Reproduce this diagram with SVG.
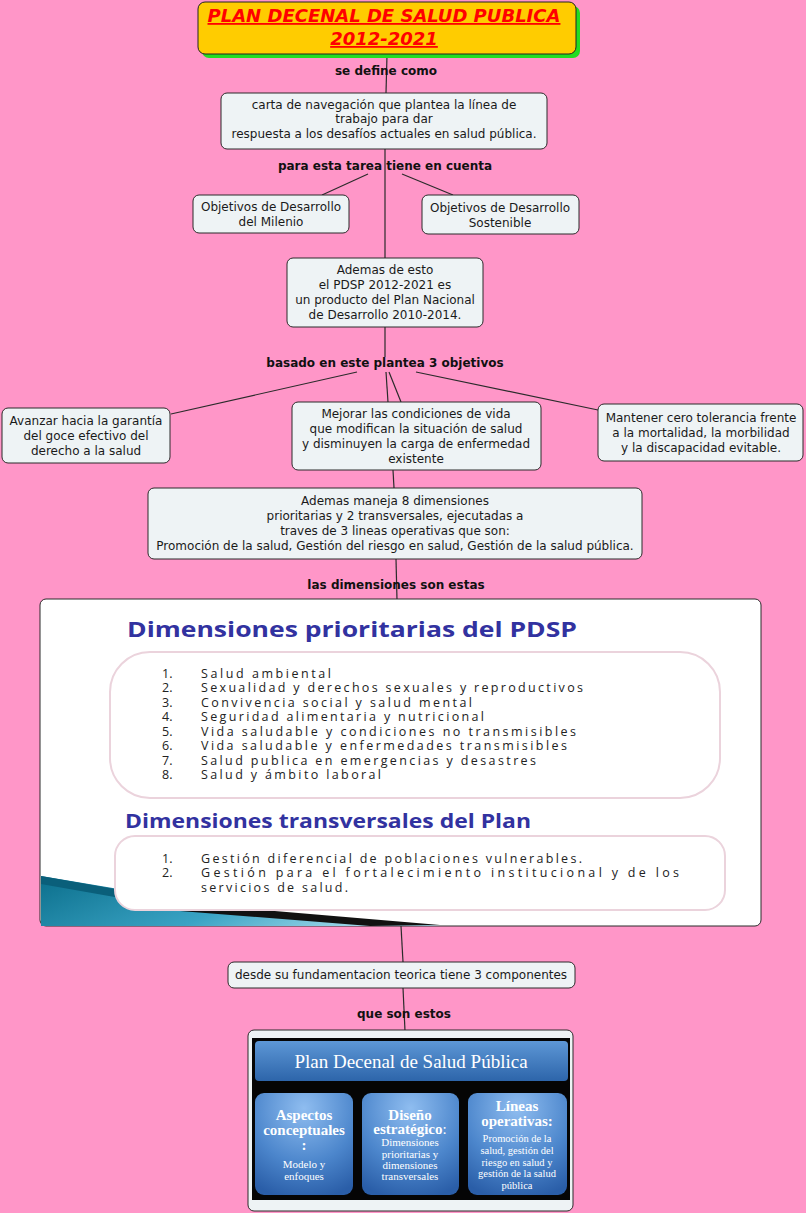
<svg xmlns="http://www.w3.org/2000/svg" width="806" height="1213" viewBox="0 0 806 1213">
<defs>
<style>
.node{fill:#EEF3F5;stroke:#2b2b2b;stroke-width:1}
.t{font-family:"DejaVu Sans",Verdana,sans-serif;font-size:12px;fill:#1a1a1a;text-anchor:middle}
.lbl{font-family:"DejaVu Sans",Verdana,sans-serif;font-size:12px;font-weight:bold;fill:#111;text-anchor:middle}
.conn line{stroke:#2b2b2b;stroke-width:1.2}
.dh{font-family:"Open Sans","DejaVu Sans",sans-serif;font-weight:bold;fill:#3232A0}
.li{font-family:"Open Sans","DejaVu Sans",sans-serif;font-size:12.5px;fill:#222}
.sv{font-family:"Liberation Serif","DejaVu Serif",serif;fill:#fff;text-anchor:middle}
.sb{font-weight:bold;font-size:15px}
.ss{font-size:11px}
</style>
<linearGradient id="teal" x1="0" y1="0" x2="1" y2="0.3">
<stop offset="0" stop-color="#0b6f8c"/><stop offset="0.6" stop-color="#3aa3c4"/><stop offset="1" stop-color="#9fd8ea"/>
</linearGradient>
<linearGradient id="hdr" x1="0" y1="0" x2="0" y2="1">
<stop offset="0" stop-color="#5d97d6"/><stop offset="1" stop-color="#2d65aa"/>
</linearGradient>
<radialGradient id="box" cx="0.5" cy="0.15" r="0.9">
<stop offset="0" stop-color="#8fbdf0"/><stop offset="0.6" stop-color="#4c86cc"/><stop offset="1" stop-color="#2a5ea8"/>
</radialGradient>
</defs>
<rect x="0" y="0" width="806" height="1213" fill="#FF96C8"/>

<g class="conn">
<line x1="387" y1="55" x2="386" y2="93"/>
<line x1="385" y1="149" x2="385" y2="258"/>
<line x1="368" y1="174" x2="322" y2="195"/>
<line x1="402" y1="174" x2="453" y2="195"/>
<line x1="385" y1="327" x2="385" y2="357"/>
<line x1="357" y1="372" x2="171" y2="414"/>
<line x1="386" y1="372" x2="388" y2="402"/>
<line x1="389" y1="372" x2="401" y2="402"/>
<line x1="416" y1="372" x2="598" y2="410"/>
<line x1="393" y1="470" x2="394" y2="488"/>
<line x1="396" y1="559" x2="397" y2="600"/>
<line x1="401" y1="926" x2="403" y2="962"/>
<line x1="403" y1="988" x2="405" y2="1031"/>
</g>

<g id="title">
<rect x="202" y="6" width="378" height="52" rx="7" fill="#22DD22"/>
<rect x="198" y="2" width="378" height="52" rx="7" fill="#FFCC00" stroke="#222" stroke-width="1"/>
<text x="384" y="22" text-anchor="middle" font-family="DejaVu Sans,Verdana,sans-serif" font-size="18" font-weight="bold" font-style="italic" fill="#FF0000" text-decoration="underline">PLAN DECENAL DE SALUD PUBLICA</text>
<text x="384" y="45" text-anchor="middle" font-family="DejaVu Sans,Verdana,sans-serif" font-size="18" font-weight="bold" font-style="italic" fill="#FF0000" text-decoration="underline">2012-2021</text>
</g>

<g id="labels">
<text class="lbl" x="386" y="75">se define como</text>
<text class="lbl" x="385" y="170">para esta tarea tiene en cuenta</text>
<text class="lbl" x="385" y="367">basado en este plantea 3 objetivos</text>
<text class="lbl" x="396" y="589">las dimensiones son estas</text>
<text class="lbl" x="404" y="1018">que son estos</text>
</g>

<g id="carta">
<rect class="node" x="221" y="93" width="326" height="56" rx="6"/>
<text class="t" x="384" y="109">carta de navegación que plantea la línea de</text>
<text class="t" x="384" y="123">trabajo para dar</text>
<text class="t" x="384" y="138">respuesta a los desafíos actuales en salud pública.</text>
</g>

<g id="odm">
<rect class="node" x="193" y="195" width="156" height="38" rx="6"/>
<text class="t" x="271" y="211">Objetivos de Desarrollo</text>
<text class="t" x="271" y="226">del Milenio</text>
</g>

<g id="ods">
<rect class="node" x="422" y="195" width="157" height="39" rx="6"/>
<text class="t" x="500" y="212">Objetivos de Desarrollo</text>
<text class="t" x="500" y="227">Sostenible</text>
</g>

<g id="ademas">
<rect class="node" x="287" y="258" width="196" height="69" rx="6"/>
<text class="t" x="385" y="274">Ademas de esto</text>
<text class="t" x="385" y="289">el PDSP 2012-2021 es</text>
<text class="t" x="385" y="304">un producto del Plan Nacional</text>
<text class="t" x="385" y="319">de Desarrollo 2010-2014.</text>
</g>

<g id="avanzar">
<rect class="node" x="2" y="408" width="168" height="55" rx="6"/>
<text class="t" x="86" y="425">Avanzar hacia la garantía</text>
<text class="t" x="86" y="440">del goce efectivo del</text>
<text class="t" x="86" y="455">derecho a la salud</text>
</g>

<g id="mejorar">
<rect class="node" x="292" y="402" width="249" height="68" rx="6"/>
<text class="t" x="416" y="418">Mejorar las condiciones de vida</text>
<text class="t" x="416" y="433">que modifican la situación de salud</text>
<text class="t" x="416" y="448">y disminuyen la carga de enfermedad</text>
<text class="t" x="416" y="463">existente</text>
</g>

<g id="mantener">
<rect class="node" x="598" y="404" width="205" height="57" rx="6"/>
<text class="t" x="701" y="422">Mantener cero tolerancia frente</text>
<text class="t" x="701" y="437">a la mortalidad, la morbilidad</text>
<text class="t" x="701" y="452">y la discapacidad evitable.</text>
</g>

<g id="maneja">
<rect class="node" x="148" y="488" width="494" height="71" rx="6"/>
<text class="t" x="395" y="505">Ademas maneja 8 dimensiones</text>
<text class="t" x="395" y="520">prioritarias y 2 transversales, ejecutadas a</text>
<text class="t" x="395" y="535">traves de 3 lineas operativas que son:</text>
<text class="t" x="395" y="550">Promoción de la salud, Gestión del riesgo en salud, Gestión de la salud pública.</text>
</g>

<g id="dimensiones">
<rect x="40" y="599" width="721" height="327" rx="6" fill="#FFFFFF" stroke="#2b2b2b" stroke-width="1"/>
<polygon points="41,876 250,911 440,926 41,926" fill="url(#teal)"/>
<polygon points="41,876 160,897 160,905 41,884" fill="#0a5f7a"/>
<polygon points="180,903 440,925 370,926 180,911" fill="#111"/>
<text class="dh" x="127" y="637" font-size="21" textLength="450" lengthAdjust="spacingAndGlyphs">Dimensiones prioritarias del PDSP</text>
<rect x="110" y="652" width="610" height="146" rx="40" fill="#fff" stroke="#EBD3DC" stroke-width="2"/>
<g class="li">
<text x="162" y="678">1.</text><text x="201" y="678" textLength="130" lengthAdjust="spacing">Salud ambiental</text>
<text x="162" y="692">2.</text><text x="201" y="692" textLength="382" lengthAdjust="spacing">Sexualidad y derechos sexuales y reproductivos</text>
<text x="162" y="707">3.</text><text x="201" y="707" textLength="271" lengthAdjust="spacing">Convivencia social y salud mental</text>
<text x="162" y="721">4.</text><text x="201" y="721" textLength="283" lengthAdjust="spacing">Seguridad alimentaria y nutricional</text>
<text x="162" y="736">5.</text><text x="201" y="736" textLength="375" lengthAdjust="spacing">Vida saludable  y condiciones no transmisibles</text>
<text x="162" y="750">6.</text><text x="201" y="750" textLength="366" lengthAdjust="spacing">Vida saludable y enfermedades transmisibles</text>
<text x="162" y="765">7.</text><text x="201" y="765" textLength="335" lengthAdjust="spacing">Salud publica en emergencias y desastres</text>
<text x="162" y="779">8.</text><text x="201" y="779" textLength="180" lengthAdjust="spacing">Salud y ámbito laboral</text>
</g>
<text class="dh" x="125" y="828" font-size="19" textLength="406" lengthAdjust="spacingAndGlyphs">Dimensiones transversales del Plan</text>
<rect x="115" y="836" width="610" height="74" rx="20" fill="#fff" stroke="#EBD3DC" stroke-width="2"/>
<g class="li">
<text x="162" y="863">1.</text><text x="201" y="863" textLength="381" lengthAdjust="spacing">Gestión diferencial de poblaciones vulnerables.</text>
<text x="162" y="877">2.</text><text x="201" y="877" textLength="478" lengthAdjust="spacing">Gestión para el fortalecimiento institucional y de los</text>
<text x="201" y="892" textLength="147" lengthAdjust="spacing">servicios de salud.</text>
</g>
</g>

<g id="desde">
<rect class="node" x="228" y="962" width="347" height="26" rx="6"/>
<text class="t" x="401" y="979">desde su fundamentacion teorica tiene 3 componentes</text>
</g>

<g id="componentes">
<rect x="248" y="1030" width="325" height="181" rx="6" fill="#EEF3F5" stroke="#2b2b2b" stroke-width="1"/>
<rect x="252" y="1038" width="318" height="162" fill="#050505"/>
<rect x="255" y="1041" width="313" height="40" rx="4" fill="url(#hdr)"/>
<text class="sv" x="411" y="1068" font-size="19">Plan Decenal de Salud Pública</text>
<rect x="255" y="1093" width="98" height="102" rx="9" fill="url(#box)"/>
<rect x="362" y="1093" width="97" height="102" rx="9" fill="url(#box)"/>
<rect x="468" y="1093" width="99" height="102" rx="9" fill="url(#box)"/>
<text class="sv sb" x="304" y="1120">Aspectos</text>
<text class="sv sb" x="304" y="1135">conceptuales</text>
<text class="sv sb" x="304" y="1150">:</text>
<text class="sv ss" x="304" y="1168">Modelo y</text>
<text class="sv ss" x="304" y="1180">enfoques</text>
<text class="sv sb" x="410" y="1120">Diseño</text>
<text class="sv" x="410" y="1134"><tspan class="sb">estratégico</tspan><tspan font-size="15">:</tspan></text>
<text class="sv ss" x="410" y="1146">Dimensiones</text>
<text class="sv ss" x="410" y="1158">prioritarias y</text>
<text class="sv ss" x="410" y="1169">dimensiones</text>
<text class="sv ss" x="410" y="1180">transversales</text>
<text class="sv sb" x="517" y="1111">Líneas</text>
<text class="sv sb" x="517" y="1126">operativas:</text>
<text class="sv" x="517" y="1142" font-size="10.5">Promoción de la</text>
<text class="sv" x="517" y="1154" font-size="10.5">salud, gestión del</text>
<text class="sv" x="517" y="1166" font-size="10.5">riesgo en salud y</text>
<text class="sv" x="517" y="1177" font-size="10.5">gestión de la salud</text>
<text class="sv" x="517" y="1189" font-size="10.5">pública</text>
</g>
</svg>
